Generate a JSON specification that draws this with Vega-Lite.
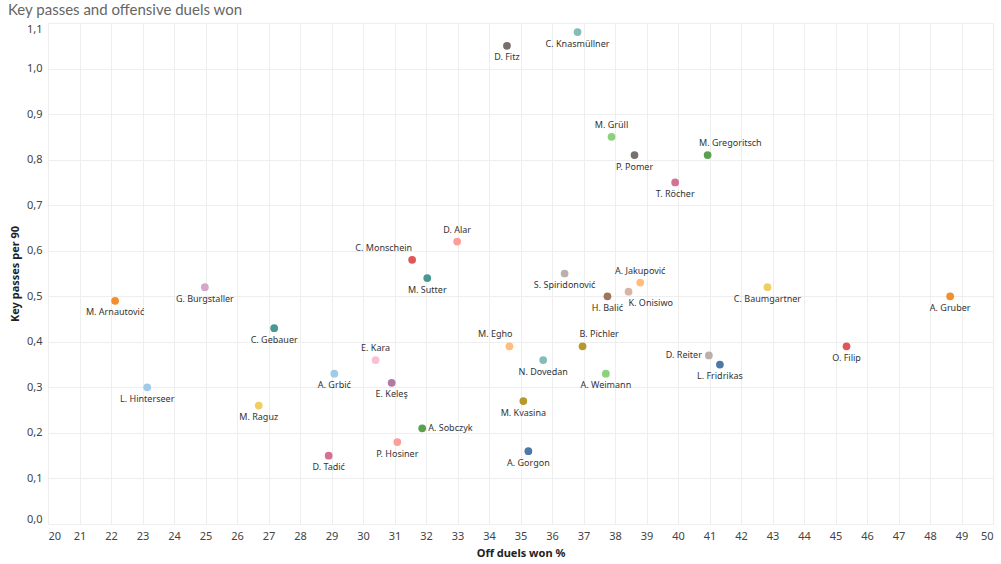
{
  "$schema": "https://vega.github.io/schema/vega-lite/v6.json",
  "width": 945,
  "height": 501,
  "autosize": {"type": "none"},
  "padding": {"left": 48, "top": 23, "right": 8, "bottom": 40},
  "background": "white",
  "title": {
    "text": "Key passes and offensive duels won",
    "anchor": "start",
    "frame": "group",
    "dx": -40,
    "offset": 5,
    "font": "Lato",
    "fontSize": 15,
    "fontWeight": "normal",
    "color": "#666666"
  },
  "config": {
    "view": {"stroke": null},
    "axis": {
      "domain": false,
      "ticks": false,
      "gridColor": "#eeeeee",
      "gridWidth": 1,
      "labelFont": "Noto Sans",
      "labelFontSize": 11,
      "labelColor": "#444444",
      "titleFont": "Noto Sans",
      "titleFontSize": 11,
      "titleFontWeight": "bold",
      "titleColor": "#222222",
      "labelFlush": true
    },
    "text": {"font": "Noto Sans", "fontSize": 9, "color": "#333333"}
  },
  "data": {
    "values": [
      {"player": "C. Knasmüllner", "duels": 36.81, "kp": 1.08},
      {"player": "D. Fitz", "duels": 34.57, "kp": 1.05},
      {"player": "M. Grüll", "duels": 37.89, "kp": 0.85},
      {"player": "P. Pomer", "duels": 38.62, "kp": 0.81},
      {"player": "M. Gregoritsch", "duels": 40.94, "kp": 0.81},
      {"player": "T. Röcher", "duels": 39.91, "kp": 0.75},
      {"player": "D. Alar", "duels": 32.99, "kp": 0.62},
      {"player": "C. Monschein", "duels": 31.56, "kp": 0.58},
      {"player": "M. Sutter", "duels": 32.04, "kp": 0.54},
      {"player": "S. Spiridonović", "duels": 36.40, "kp": 0.55},
      {"player": "A. Jakupović", "duels": 38.80, "kp": 0.53},
      {"player": "H. Balić", "duels": 37.76, "kp": 0.50},
      {"player": "K. Onisiwo", "duels": 38.43, "kp": 0.51},
      {"player": "C. Baumgartner", "duels": 42.84, "kp": 0.52},
      {"player": "A. Gruber", "duels": 48.64, "kp": 0.50},
      {"player": "M. Egho", "duels": 34.65, "kp": 0.39},
      {"player": "B. Pichler", "duels": 36.97, "kp": 0.39},
      {"player": "N. Dovedan", "duels": 35.72, "kp": 0.36},
      {"player": "A. Weimann", "duels": 37.71, "kp": 0.33},
      {"player": "D. Reiter", "duels": 40.98, "kp": 0.37},
      {"player": "L. Fridrikas", "duels": 41.33, "kp": 0.35},
      {"player": "O. Filip", "duels": 45.35, "kp": 0.39},
      {"player": "M. Kvasina", "duels": 35.09, "kp": 0.27},
      {"player": "A. Gorgon", "duels": 35.25, "kp": 0.16},
      {"player": "M. Arnautović", "duels": 22.13, "kp": 0.49},
      {"player": "G. Burgstaller", "duels": 24.98, "kp": 0.52},
      {"player": "C. Gebauer", "duels": 27.18, "kp": 0.43},
      {"player": "E. Kara", "duels": 30.40, "kp": 0.36},
      {"player": "A. Grbić", "duels": 29.09, "kp": 0.33},
      {"player": "E. Keleş", "duels": 30.91, "kp": 0.31},
      {"player": "L. Hinterseer", "duels": 23.15, "kp": 0.30},
      {"player": "M. Raguz", "duels": 26.69, "kp": 0.26},
      {"player": "A. Sobczyk", "duels": 31.88, "kp": 0.21},
      {"player": "P. Hosiner", "duels": 31.09, "kp": 0.18},
      {"player": "D. Tadić", "duels": 28.91, "kp": 0.15}
    ]
  },
  "encoding": {
    "x": {
      "field": "duels",
      "type": "quantitative",
      "title": "Off duels won %",
      "scale": {"domain": [20, 50], "nice": false, "zero": false},
      "axis": {
        "values": [20,21,22,23,24,25,26,27,28,29,30,31,32,33,34,35,36,37,38,39,40,41,42,43,44,45,46,47,48,49,50],
        "labelPadding": 6,
        "titlePadding": 6
      }
    },
    "y": {
      "field": "kp",
      "type": "quantitative",
      "title": "Key passes per 90",
      "scale": {"domain": [0, 1.1], "nice": false, "zero": true},
      "axis": {
        "values": [0, 0.1, 0.2, 0.3, 0.4, 0.5, 0.6, 0.7, 0.8, 0.9, 1.0, 1.1],
        "labelExpr": "replace(format(datum.value, '.1f'), '.', ',')",
        "labelPadding": 6,
        "titleX": -28
      }
    }
  },
  "layer": [
    {
      "mark": {"type": "circle", "size": 60, "opacity": 1},
      "encoding": {
        "color": {
          "field": "player",
          "type": "nominal",
          "legend": null,
          "scale": {
            "domain": ["C. Knasmüllner","D. Fitz","M. Grüll","P. Pomer","M. Gregoritsch","T. Röcher","D. Alar","C. Monschein","M. Sutter","S. Spiridonović","A. Jakupović","H. Balić","K. Onisiwo","C. Baumgartner","A. Gruber","M. Egho","B. Pichler","N. Dovedan","A. Weimann","D. Reiter","L. Fridrikas","O. Filip","M. Kvasina","A. Gorgon","M. Arnautović","G. Burgstaller","C. Gebauer","E. Kara","A. Grbić","E. Keleş","L. Hinterseer","M. Raguz","A. Sobczyk","P. Hosiner","D. Tadić"],
            "range": ["#86bcb6","#79706e","#8cd17d","#79706e","#59a14f","#d37295","#ff9d9a","#e15759","#499894","#bab0ac","#ffbe7d","#9d7660","#d7b5a6","#f1ce63","#f28e2b","#ffbe7d","#b6992d","#86bcb6","#8cd17d","#bab0ac","#4e79a7","#e15759","#b6992d","#4e79a7","#f28e2b","#d4a6c8","#499894","#fabfd2","#a0cbe8","#b07aa1","#a0cbe8","#f1ce63","#59a14f","#ff9d9a","#d37295"]
          }
        }
      }
    },
    {
      "transform": [{"filter": {"not": {"field": "player", "oneOf": ["M. Grüll","D. Alar","E. Kara","A. Jakupović","M. Gregoritsch","C. Monschein","M. Egho","B. Pichler","K. Onisiwo","A. Sobczyk","D. Reiter"]}}}],
      "mark": {"type": "text", "baseline": "middle", "align": "center", "dy": 11.5},
      "encoding": {"text": {"field": "player"}}
    },
    {
      "transform": [{"filter": {"field": "player", "oneOf": ["M. Grüll","D. Alar","E. Kara","A. Jakupović"]}}],
      "mark": {"type": "text", "baseline": "middle", "align": "center", "dy": -12},
      "encoding": {"text": {"field": "player"}}
    },
    {
      "transform": [{"filter": {"field": "player", "oneOf": ["M. Gregoritsch"]}}],
      "mark": {"type": "text", "baseline": "middle", "align": "left", "dx": -8.5, "dy": -12},
      "encoding": {"text": {"field": "player"}}
    },
    {
      "transform": [{"filter": {"field": "player", "oneOf": ["C. Monschein"]}}],
      "mark": {"type": "text", "baseline": "middle", "align": "right", "dx": 0, "dy": -12},
      "encoding": {"text": {"field": "player"}}
    },
    {
      "transform": [{"filter": {"field": "player", "oneOf": ["M. Egho"]}}],
      "mark": {"type": "text", "baseline": "middle", "align": "right", "dx": 3, "dy": -12},
      "encoding": {"text": {"field": "player"}}
    },
    {
      "transform": [{"filter": {"field": "player", "oneOf": ["B. Pichler"]}}],
      "mark": {"type": "text", "baseline": "middle", "align": "left", "dx": -3, "dy": -12},
      "encoding": {"text": {"field": "player"}}
    },
    {
      "transform": [{"filter": {"field": "player", "oneOf": ["K. Onisiwo"]}}],
      "mark": {"type": "text", "baseline": "middle", "align": "left", "dx": 0, "dy": 11.5},
      "encoding": {"text": {"field": "player"}}
    },
    {
      "transform": [{"filter": {"field": "player", "oneOf": ["A. Sobczyk"]}}],
      "mark": {"type": "text", "baseline": "middle", "align": "left", "dx": 6, "dy": 0},
      "encoding": {"text": {"field": "player"}}
    },
    {
      "transform": [{"filter": {"field": "player", "oneOf": ["D. Reiter"]}}],
      "mark": {"type": "text", "baseline": "middle", "align": "right", "dx": -7, "dy": 0},
      "encoding": {"text": {"field": "player"}}
    }
  ]
}
